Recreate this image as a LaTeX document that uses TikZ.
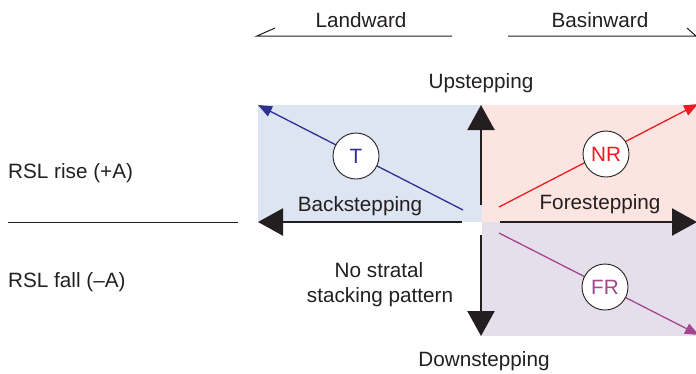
\documentclass[tikz,border=0pt]{standalone}
\usepackage{fontspec}
\setmainfont{Liberation Sans}
\usetikzlibrary{arrows.meta}
\definecolor{bluefill}{HTML}{DDE5F3}
\definecolor{pinkfill}{HTML}{FCE4E1}
\definecolor{purplefill}{HTML}{E5DFEC}
\definecolor{tblue}{HTML}{2E3192}
\definecolor{nrred}{HTML}{ED1C24}
\definecolor{frpurple}{HTML}{A3478F}
\definecolor{ink}{HTML}{231F20}
\tikzset{
  lbl/.style={font=\fontsize{20.7}{24}\selectfont, text=ink, inner sep=0pt, anchor=base},
  lblw/.style={lbl, anchor=base west},
  bigarrow/.style={draw=ink, line width=2.2pt, -{Triangle[length=25pt,width=27pt]}},
  diag/.style={line width=1.3pt, -{Triangle[length=14pt,width=11pt]}},
  thinline/.style={draw=ink, line width=1pt},
  ring/.style={circle, draw=ink, fill=white, line width=0.9pt, minimum size=46pt, inner sep=0pt,
    font=\fontsize{20.7}{24}\selectfont}
}
\begin{document}
\begin{tikzpicture}[x=1pt,y=-1pt]
\useasboundingbox (0,0) rectangle (696,373);
% quadrant fills
\fill[bluefill] (258,105) rectangle (482,222);
\fill[pinkfill] (482,105) rectangle (696,222);
\fill[purplefill] (482,222) rectangle (696,336);
% top direction lines
\coordinate (lwR) at (452,36);
\coordinate (lwL) at (257,36);
\coordinate (lwB) at (275,28);
\draw[thinline] (lwR) -- (lwL) -- (lwB);
\coordinate (bwL) at (508,36);
\coordinate (bwR) at (696,36);
\coordinate (bwB) at (687,28);
\draw[thinline] (bwL) -- (bwR) -- (bwB);
\node[lbl] (landward) at (361,27) {Landward};
\node[lbl] (basinward) at (600,27) {Basinward};
% left labels and separator
\coordinate (sepL) at (8,222);
\coordinate (sepR) at (238,222);
\draw[thinline] (sepL) -- (sepR);
\node[lblw] (rise) at (8,178) {RSL rise (+A)};
\node[lblw] (fall) at (8,287) {RSL fall (–A)};
% black axes arrows
\coordinate (upS) at (481,205);
\coordinate (upE) at (481,105);
\coordinate (dnS) at (481,235);
\coordinate (dnE) at (481,336);
\coordinate (lfS) at (462,222);
\coordinate (lfE) at (258,222);
\coordinate (rtS) at (500,222);
\coordinate (rtE) at (697,222);
\draw[bigarrow] (upS) -- (upE);
\draw[bigarrow] (dnS) -- (dnE);
\draw[bigarrow] (lfS) -- (lfE);
\draw[bigarrow] (rtS) -- (rtE);
% diagonal trajectories
\coordinate (tS) at (463,210);
\coordinate (tE) at (258,105);
\coordinate (nrS) at (499,207);
\coordinate (nrE) at (698,104);
\coordinate (frS) at (499,233);
\coordinate (frE) at (699,335);
\draw[diag, draw=tblue, fill=tblue] (tS) -- (tE);
\draw[diag, draw=nrred, fill=nrred] (nrS) -- (nrE);
\draw[diag, draw=frpurple, fill=frpurple] (frS) -- (frE);
\node[ring, text=tblue] (T) at (356,156) {T};
\node[ring, text=nrred] (NR) at (606,154) {NR};
\node[ring, text=frpurple] (FR) at (605,287) {FR};
% axis labels
\node[lbl] (up) at (481,88) {Upstepping};
\node[lbl] (down) at (484,366) {Downstepping};
\node[lbl] (back) at (360,211) {Backstepping};
\node[lbl] (fore) at (600,209) {Forestepping};
\node[lbl] (nostrat) at (379,277) {No stratal};
\node[lbl] (stack) at (380,302) {stacking pattern};
\end{tikzpicture}
\end{document}
